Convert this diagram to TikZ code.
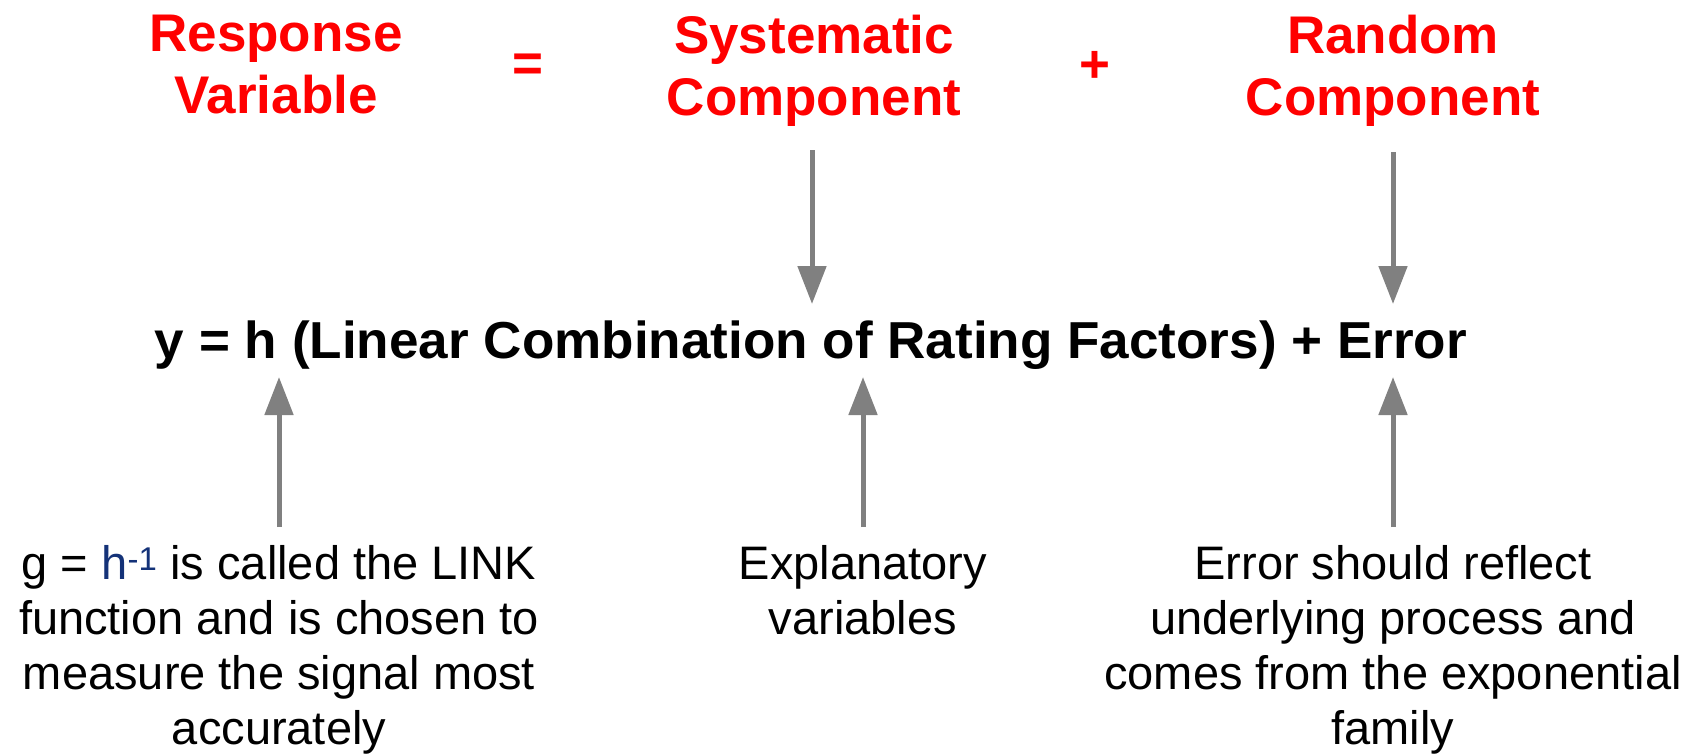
\documentclass[tikz,border=0pt]{standalone}
\usepackage{fontspec}
\setmainfont{Liberation Sans}
\usetikzlibrary{arrows.meta}
\definecolor{navyh}{RGB}{20,50,120}
\definecolor{arrgray}{RGB}{128,128,128}
\begin{document}
\begin{tikzpicture}[x=1pt,y=-1pt,
  toptxt/.style={font=\fontsize{53}{62}\selectfont\bfseries, text=red, align=center, inner sep=0pt, anchor=north},
  optxt/.style={font=\fontsize{53}{62}\selectfont\bfseries, text=red, inner sep=0pt},
  eqtxt/.style={font=\fontsize{52}{60}\selectfont\bfseries, inner sep=0pt, anchor=base},
  bottxt/.style={font=\fontsize{47}{55}\selectfont, align=center, inner sep=0pt, anchor=north},
  arr/.style={draw=arrgray, line width=5pt, -{Triangle[width=28pt,length=38pt]}}]
\useasboundingbox (0,0) rectangle (1697,753);
\node[toptxt] (resp) at (276,15) {Response\\Variable};
\node[optxt] (eq1) at (528,68) {=};
\node[toptxt] (sys) at (814,15) {Systematic\\Component};
\node[optxt] (plus) at (1095,67) {+};
\node[toptxt] (rand) at (1393,15) {Random\\Component};
\node[eqtxt] (eqn) at (811,358) {\resizebox{1312pt}{\height}{y = h (Linear Combination of Rating Factors) + Error}};
\node[bottxt] (link) at (279,545) {g = \textcolor{navyh}{h\textsuperscript{-1}} is called the LINK\\function and is chosen to\\measure the signal most\\accurately};
\node[bottxt] (expl) at (863,545) {Explanatory\\variables};
\node[bottxt] (err) at (1393,545) {Error should reflect\\underlying process and\\comes from the exponential\\family};
\coordinate (s1) at (812,150);
\coordinate (s2) at (812,304);
\coordinate (r1) at (1393,152);
\coordinate (r2) at (1393,304);
\coordinate (l1) at (279,527);
\coordinate (l2) at (279,377);
\coordinate (e1) at (863,527);
\coordinate (e2) at (863,377);
\coordinate (f1) at (1393,527);
\coordinate (f2) at (1393,377);
\draw[arr] (s1) -- (s2);
\draw[arr] (r1) -- (r2);
\draw[arr] (l1) -- (l2);
\draw[arr] (e1) -- (e2);
\draw[arr] (f1) -- (f2);
\end{tikzpicture}
\end{document}
